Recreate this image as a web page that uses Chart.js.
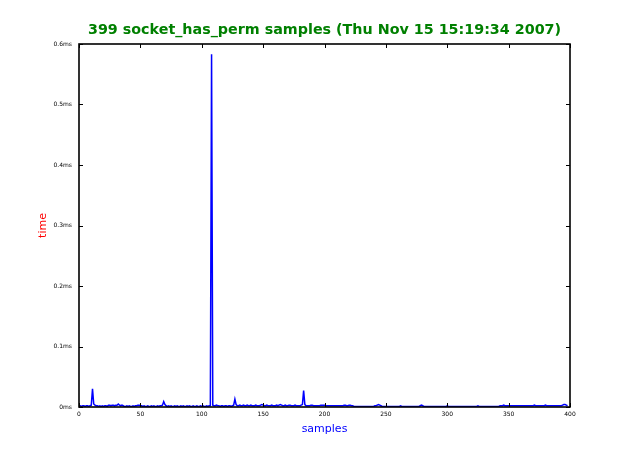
<!DOCTYPE html>
<html>
<head>
<meta charset="utf-8">
<script src="https://cdn.jsdelivr.net/npm/chart.js@4/dist/chart.umd.min.js"></script>
<style>
  html, body { margin: 0; padding: 0; background: #fff; }
  #wrap { width: 633px; height: 453px; }
</style>
</head>
<body>
<div id="wrap"><canvas id="chart" width="633" height="453"></canvas></div>
<script>
// socket_has_perm latency samples — one value per sample, in ms.

const TITLE = '399 socket_has_perm samples (Thu Nov 15 15:19:34 2007)';
const X_LABEL = 'samples';
const Y_LABEL = 'time';

const xTicks = [0, 50, 100, 150, 200, 250, 300, 350, 400];
const yTicks = [0, 0.1, 0.2, 0.3, 0.4, 0.5, 0.6];
const yTickLabels = ['0ms', '0.1ms', '0.2ms', '0.3ms', '0.4ms', '0.5ms', '0.6ms'];

const timeMs = [
  0.002,0.002,0.001,0.002,0.002,0.001,0.002,0.002,0.001,0.002,0.003,0.030,0.005,0.003,0.002,0.002,0.001,0.002,0.001,0.002,
  0.001,0.002,0.002,0.001,0.003,0.003,0.002,0.003,0.003,0.002,0.003,0.003,0.005,0.003,0.002,0.003,0.002,0.001,0.001,0.002,
  0.001,0.002,0.001,0.001,0.002,0.001,0.002,0.002,0.003,0.003,0.002,0.002,0.001,0.002,0.001,0.001,0.002,0.001,0.001,0.002,
  0.001,0.002,0.001,0.001,0.002,0.001,0.002,0.002,0.003,0.009,0.004,0.002,0.001,0.002,0.001,0.002,0.001,0.001,0.002,0.001,
  0.002,0.001,0.001,0.002,0.001,0.002,0.001,0.001,0.002,0.001,0.002,0.001,0.001,0.002,0.001,0.001,0.002,0.001,0.001,0.002,
  0.001,0.002,0.001,0.001,0.002,0.001,0.002,0.002,0.583,0.003,0.002,0.002,0.003,0.002,0.002,0.001,0.002,0.002,0.001,0.002,
  0.002,0.001,0.002,0.002,0.001,0.002,0.003,0.013,0.004,0.002,0.002,0.003,0.002,0.002,0.003,0.002,0.002,0.003,0.002,0.002,
  0.003,0.002,0.002,0.002,0.003,0.002,0.002,0.002,0.003,0.004,0.003,0.002,0.002,0.003,0.002,0.002,0.002,0.003,0.002,0.002,
  0.002,0.003,0.002,0.003,0.004,0.003,0.002,0.002,0.003,0.002,0.002,0.003,0.003,0.002,0.002,0.002,0.003,0.002,0.002,0.002,
  0.002,0.003,0.004,0.027,0.004,0.002,0.002,0.002,0.002,0.003,0.003,0.002,0.002,0.002,0.002,0.002,0.002,0.003,0.003,0.003,
  0.003,0.002,0.002,0.002,0.002,0.002,0.002,0.002,0.002,0.002,0.002,0.002,0.002,0.002,0.002,0.002,0.003,0.003,0.002,0.002,
  0.003,0.003,0.002,0.002,0.001,0.001,0.001,0.001,0.001,0.001,0.001,0.001,0.001,0.001,0.001,0.001,0.001,0.001,0.001,0.001,
  0.001,0.002,0.002,0.003,0.004,0.003,0.002,0.001,0.001,0.001,0.001,0.001,0.001,0.001,0.001,0.001,0.001,0.001,0.001,0.001,
  0.001,0.001,0.002,0.001,0.001,0.001,0.001,0.001,0.001,0.001,0.001,0.001,0.001,0.001,0.001,0.001,0.001,0.001,0.002,0.003,
  0.002,0.001,0.001,0.001,0.001,0.001,0.001,0.001,0.001,0.001,0.001,0.001,0.001,0.001,0.001,0.001,0.001,0.001,0.001,0.001,
  0.002,0.001,0.001,0.001,0.001,0.001,0.001,0.001,0.001,0.001,0.001,0.001,0.001,0.001,0.001,0.001,0.001,0.001,0.001,0.001,
  0.001,0.001,0.001,0.001,0.001,0.002,0.001,0.001,0.001,0.001,0.001,0.001,0.001,0.001,0.001,0.001,0.001,0.001,0.001,0.001,
  0.001,0.001,0.001,0.002,0.002,0.002,0.003,0.002,0.002,0.002,0.002,0.002,0.002,0.002,0.002,0.002,0.002,0.002,0.002,0.002,
  0.002,0.002,0.002,0.002,0.002,0.002,0.002,0.002,0.002,0.002,0.002,0.003,0.002,0.002,0.002,0.002,0.002,0.002,0.002,0.002,
  0.003,0.002,0.002,0.002,0.002,0.002,0.002,0.002,0.002,0.002,0.002,0.002,0.002,0.002,0.003,0.004,0.004,0.003,0.002
];

const FONT = "'DejaVu Sans', sans-serif";

// matplotlib-style frame: black box with ticks pointing inward on all four sides
const framePlugin = {
  id: 'frame',
  afterDatasetsDraw(chart) {
    const { ctx, chartArea: a, scales: { x, y } } = chart;
    const len = 4;
    ctx.save();
    ctx.strokeStyle = '#000';
    ctx.lineWidth = 1;
    ctx.beginPath();
    for (const v of xTicks) {
      const px = Math.round(x.getPixelForValue(v)) + 0.5;
      ctx.moveTo(px, a.bottom); ctx.lineTo(px, a.bottom - len);
      ctx.moveTo(px, a.top); ctx.lineTo(px, a.top + len);
    }
    for (const v of yTicks) {
      const py = Math.round(y.getPixelForValue(v)) + 0.5;
      ctx.moveTo(a.left, py); ctx.lineTo(a.left + len, py);
      ctx.moveTo(a.right, py); ctx.lineTo(a.right - len, py);
    }
    ctx.stroke();
    ctx.lineWidth = 1.6;
    ctx.strokeRect(a.left, a.top, a.right - a.left, a.bottom - a.top);
    // title, centred over the plot area
    ctx.fillStyle = '#008000';
    ctx.font = "bold 14.3px " + FONT;
    ctx.textAlign = 'center';
    ctx.textBaseline = 'middle';
    ctx.fillText(TITLE, (a.left + a.right) / 2, 30);
    ctx.restore();
  }
};

new Chart(document.getElementById('chart'), {
  type: 'line',
  data: {
    datasets: [{
      data: timeMs.map((v, i) => ({ x: i, y: v })),
      borderColor: '#0000ff',
      borderWidth: 1.5,
      pointRadius: 0,
      tension: 0,
      fill: false,
    }],
  },
  options: {
    responsive: false,
    animation: false,
    devicePixelRatio: 1,
    layout: { padding: { top: 44, right: 63, left: 0, bottom: 0 } },
    plugins: { legend: { display: false }, tooltip: { enabled: false } },
    scales: {
      x: {
        type: 'linear',
        min: 0, max: 400,
        afterBuildTicks: s => { s.ticks = xTicks.map(v => ({ value: v })); },
        afterFit: s => { s.height = 46; },
        grid: { display: false, drawTicks: false },
        border: { display: false },
        ticks: { color: '#000', font: { family: FONT, size: 6 }, padding: 4, maxRotation: 0 },
        title: { display: true, text: X_LABEL, color: '#0000ff', font: { family: FONT, size: 11 }, padding: { top: 0, bottom: 17 } },
      },
      y: {
        type: 'linear',
        min: 0, max: 0.6,
        afterBuildTicks: s => { s.ticks = yTicks.map(v => ({ value: v })); },
        afterFit: s => { s.width = 79; },
        grid: { display: false, drawTicks: false },
        border: { display: false },
        ticks: {
          color: '#000', font: { family: FONT, size: 6 }, padding: 7,
          callback: (v, i) => yTickLabels[i],
        },
        title: { display: true, text: Y_LABEL, color: '#ff0000', font: { family: FONT, size: 11 }, padding: { top: 37, bottom: 0 } },
      },
    },
  },
  plugins: [framePlugin],
});
</script>
</body>
</html>
